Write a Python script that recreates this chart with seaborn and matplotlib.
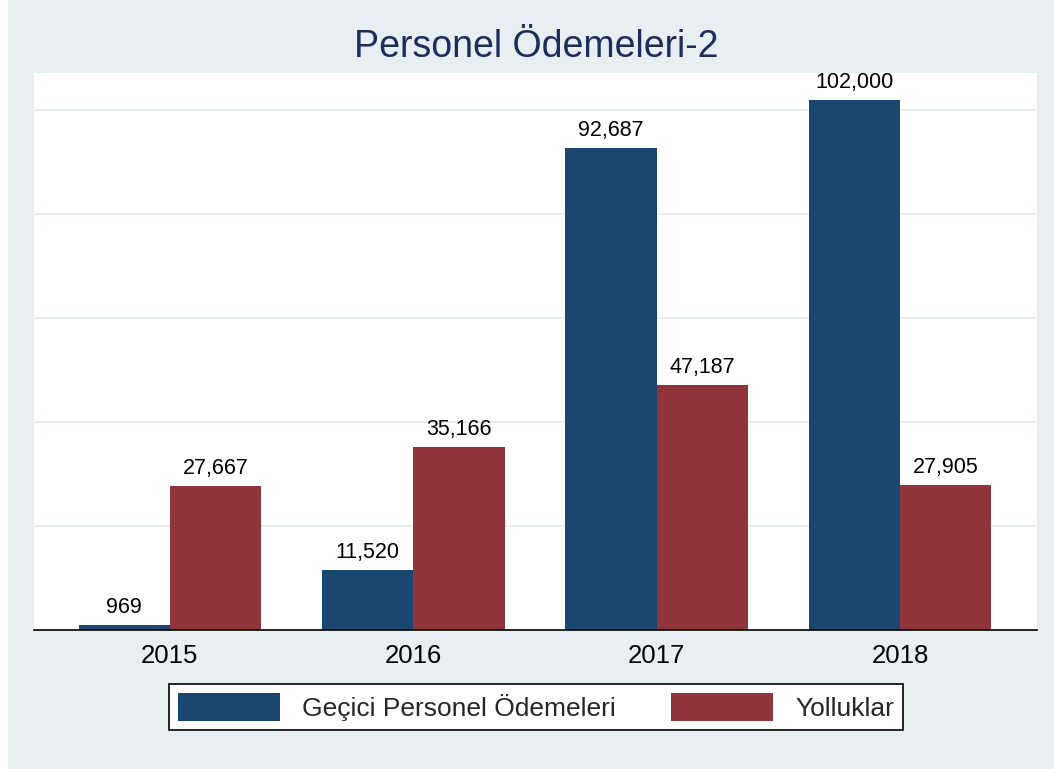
import seaborn as sns
import matplotlib.pyplot as plt
import pandas as pd
from matplotlib.patches import Rectangle

years = ['2015', '2016', '2017', '2018']
gecici = [969, 11520, 92687, 102000]
yolluklar = [27667, 35166, 47187, 27905]
series_names = ['Geçici Personel Ödemeleri', 'Yolluklar']

df = pd.DataFrame({
    'year': years * 2,
    'value': gecici + yolluklar,
    'series': [series_names[0]] * 4 + [series_names[1]] * 4,
})

bg = '#e8eff2'
colors = ['#1a476f', '#90353b']

sns.set_theme(style='white')
plt.rcParams['font.family'] = ['Liberation Sans', 'DejaVu Sans']

W, H = 1054, 769
fig = plt.figure(figsize=(W / 100, H / 100), dpi=100, facecolor=bg)
fig.patches.append(Rectangle((0, 0), 7 / W, 1, transform=fig.transFigure,
                             color='white', zorder=-1))
ax = fig.add_axes([34 / W, (H - 630) / H, 1003 / W, 557 / H])
ax.set_facecolor('white')

sns.barplot(data=df, x='year', y='value', hue='series', order=years,
            hue_order=series_names, palette=colors, width=0.75, gap=0,
            saturation=1, ax=ax, legend=False, err_kws={'linewidth': 0},
            linewidth=0)

for cont in ax.containers:
    ax.bar_label(cont, labels=[f'{v:,.0f}' for v in cont.datavalues],
                 padding=5, fontsize=15.5, color='black')

ax.set_ylim(0, 107100)
ax.set_xlim(-0.558, 3.562)
ax.set_yticks([20000, 40000, 60000, 80000, 100000])
ax.set_yticklabels([])
ax.tick_params(axis='y', length=0)
ax.tick_params(axis='x', length=0, labelsize=18.5, pad=10, labelcolor='black')
ax.yaxis.grid(True, color=bg, linewidth=1.5)
ax.set_axisbelow(True)
for s in ['left', 'right', 'top']:
    ax.spines[s].set_visible(False)
ax.spines['bottom'].set_color('black')
ax.spines['bottom'].set_linewidth(1.2)
ax.set_xlabel('')
ax.set_ylabel('')

fig.text(536 / W, 1 - 47 / H, 'Personel Ödemeleri-2', ha='center', va='center',
         fontsize=27, color='#1e2d5c')

handles = [Rectangle((0, 0), 1, 1, facecolor=c, linewidth=0) for c in colors]
leg = fig.legend(handles, series_names, loc='center', ncol=2,
                 bbox_to_anchor=(536 / W, 1 - 707 / H), fontsize=19,
                 handlelength=3.85, handleheight=1.25, handletextpad=0.85,
                 columnspacing=2.1, borderpad=0.35, borderaxespad=0,
                 fancybox=False, framealpha=1, edgecolor='black')
leg.get_frame().set_linewidth(1.2)

fig.savefig('out.png', dpi=100, facecolor=bg)
